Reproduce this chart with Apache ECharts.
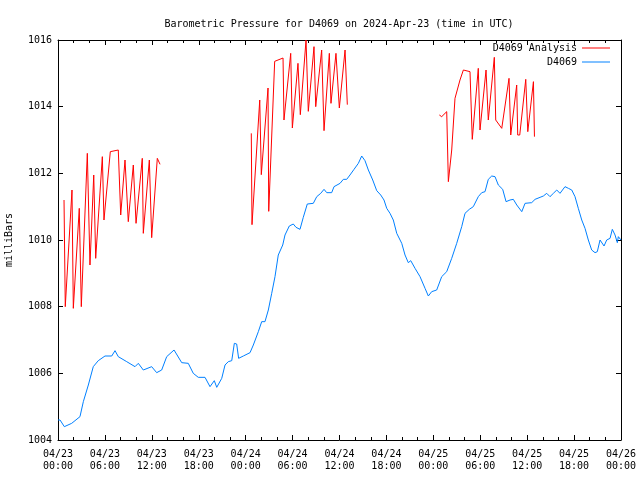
<!DOCTYPE html>
<html>
<head>
<meta charset="utf-8">
<script src="https://cdn.jsdelivr.net/npm/echarts@6/dist/echarts.min.js"></script>
<style>html,body{margin:0;padding:0;background:#fff}#c{width:640px;height:480px}</style>
</head>
<body>
<div id="c"></div>
<script>
// Hours since 2024-04-23 00:00 UTC
var blueHours = [0,0.26,0.81,1.75,2.81,3.24,3.88,4.51,5.15,6.01,6.87,7.29,7.71,8.79,9.85,10.27,10.91,11.98,12.62,13.26,13.9,14.84,15.82,16.66,17.3,17.94,18.8,19.44,19.99,20.3,20.94,21.36,21.78,22.22,22.55,22.85,23.1,23.7,24.56,24.98,25.62,26.05,26.47,26.9,27.33,27.75,28.17,28.74,29.03,29.58,30.09,30.44,30.95,31.37,31.88,32.65,33.09,33.6,34.02,34.37,35.0,35.3,36.07,36.49,36.92,37.34,37.86,38.41,38.84,39.26,39.69,40.25,40.76,41.27,41.69,42.04,42.46,42.88,43.32,43.96,44.38,44.8,45.11,45.66,46.3,46.94,47.36,47.79,48.43,49.07,49.71,50.35,50.99,51.63,52.05,52.6,53.11,53.75,54.19,54.61,55.03,55.47,55.89,56.31,56.87,57.3,57.81,58.23,58.67,59.31,59.73,60.58,61.01,61.65,62.07,62.5,62.92,63.35,63.78,64.2,64.84,65.27,65.7,66.12,66.54,66.98,67.4,67.82,68.25,68.68,68.97,69.32,69.53,69.83,70.17,70.6,70.89,71.24,71.53,71.66,72];
var blueValues = [1004.6,1004.6,1004.4,1004.5,1004.7,1005.15,1005.65,1006.2,1006.38,1006.52,1006.52,1006.68,1006.5,1006.35,1006.2,1006.3,1006.1,1006.2,1006.02,1006.1,1006.5,1006.7,1006.32,1006.3,1006.0,1005.88,1005.88,1005.6,1005.78,1005.58,1005.85,1006.25,1006.35,1006.38,1006.9,1006.88,1006.45,1006.52,1006.62,1006.85,1007.25,1007.55,1007.55,1007.9,1008.4,1008.9,1009.55,1009.85,1010.15,1010.42,1010.48,1010.38,1010.32,1010.68,1011.08,1011.1,1011.3,1011.4,1011.52,1011.42,1011.42,1011.6,1011.7,1011.82,1011.82,1011.95,1012.12,1012.3,1012.52,1012.38,1012.1,1011.8,1011.48,1011.35,1011.2,1010.95,1010.8,1010.6,1010.2,1009.9,1009.55,1009.32,1009.38,1009.15,1008.9,1008.55,1008.32,1008.45,1008.5,1008.9,1009.05,1009.45,1009.9,1010.4,1010.8,1010.92,1011.0,1011.3,1011.42,1011.45,1011.82,1011.92,1011.9,1011.65,1011.52,1011.15,1011.2,1011.22,1011.05,1010.85,1011.1,1011.12,1011.22,1011.28,1011.32,1011.4,1011.3,1011.4,1011.5,1011.4,1011.6,1011.55,1011.5,1011.3,1010.95,1010.6,1010.35,1010.0,1009.7,1009.62,1009.65,1010.0,1010.02,1009.82,1010.0,1010.05,1010.32,1010.15,1009.92,1010.1,1010.0];

var analysisHours = [0.77,0.93,1.79,1.96,2.72,2.98,3.75,4.09,4.57,4.82,5.67,5.88,6.69,7.71,8.02,8.57,8.99,9.63,9.98,10.78,10.91,11.68,11.98,12.7,13.05,
  18,
  24.72,24.81,25.8,26.0,26.86,26.95,27.71,28.78,28.9,29.76,29.97,30.69,30.99,31.72,32.01,32.74,32.96,33.72,33.93,34.02,34.7,34.91,35.55,35.98,36.71,37.0,
  42,
  48.77,49.07,49.71,49.92,50.35,50.77,51.41,51.84,52.69,52.98,53.75,53.97,54.74,55.03,55.8,55.98,56.75,57.68,57.9,58.66,58.79,59.05,59.82,60.08,60.8,60.93];
var analysisValues = [1011.2,1008.0,1011.5,1007.95,1010.95,1008.0,1012.6,1009.25,1011.95,1009.45,1012.5,1010.6,1012.65,1012.7,1010.75,1012.4,1010.55,1012.25,1010.5,1012.45,1010.2,1012.4,1010.07,1012.45,1012.27,
  null,
  1013.2,1010.46,1014.2,1011.96,1014.56,1010.86,1015.36,1015.46,1013.6,1015.6,1013.36,1015.3,1013.76,1016.0,1013.86,1015.8,1014.0,1015.7,1015.7,1013.28,1015.6,1014.1,1015.6,1013.96,1015.7,1014.06,
  null,
  1013.75,1013.7,1013.85,1011.75,1012.7,1014.25,1014.8,1015.1,1015.05,1013.02,1015.15,1013.3,1015.1,1013.6,1015.48,1013.6,1013.35,1014.85,1013.15,1014.65,1013.15,1013.15,1014.82,1013.25,1014.75,1013.1];

var yTicks = [1004,1006,1008,1010,1012,1014,1016];
var seriesNames = ['D4069 Analysis','D4069'];
var titleText = 'Barometric Pressure for D4069 on 2024-Apr-23 (time in UTC)';
var yName = 'milliBars';

function pairs(h, v){ return h.map(function(x,i){ return [x, v[i]]; }); }
function pad(n){ return (n<10?'0':'')+n; }

var FONT = 'DejaVu Sans Mono';
var chart = echarts.init(document.getElementById('c'), null, {renderer:'canvas'});

var xCommon = {
  type:'value', min:0, max:72, interval:6,
  axisLine:{show:true, onZero:false, lineStyle:{color:'#000', width:1}},
  axisTick:{show:true, inside:true, length:5, lineStyle:{color:'#000'}},
  minorTick:{show:true, splitNumber:3, length:3, lineStyle:{color:'#000'}},
  splitLine:{show:false}
};
var yCommon = {
  type:'value', min:yTicks[0], max:yTicks[yTicks.length-1], interval:2,
  axisLine:{show:true, onZero:false, lineStyle:{color:'#000', width:1}},
  axisTick:{show:true, inside:true, length:5, lineStyle:{color:'#000'}},
  splitLine:{show:false}
};

var option = {
  animation:false,
  backgroundColor:'#fff',
  title:{text:titleText, left:334, textAlign:'center', top:14,
    textStyle:{fontFamily:FONT, fontSize:10, fontWeight:'normal', color:'#000'}},
  grid:{left:58, right:19, top:40, bottom:40, containLabel:false, outerBoundsMode:'none'},
  legend:[
    {data:[seriesNames[0]], right:30, top:43, orient:'vertical', align:'right', padding:0,
     icon:'rect', itemWidth:28, itemHeight:1, textStyle:{fontFamily:FONT, fontSize:10, color:'#000'}},
    {data:[seriesNames[1]], right:30, top:57, orient:'vertical', align:'right', padding:0,
     icon:'rect', itemWidth:28, itemHeight:1, textStyle:{fontFamily:FONT, fontSize:10, color:'#000'}}
  ],
  xAxis:[
    Object.assign({}, xCommon, {position:'bottom',
      axisLabel:{show:true, margin:8, color:'#000', fontFamily:FONT, fontSize:10, lineHeight:12,
        formatter:function(v){ var d = 23 + Math.floor(v/24); var hh = v % 24; return '04/' + pad(d) + '\n' + pad(hh) + ':00'; }}}),
    Object.assign({}, xCommon, {position:'top', axisLabel:{show:false}})
  ],
  yAxis:[
    Object.assign({}, yCommon, {position:'left', name:yName, nameLocation:'middle', nameGap:44, nameRotate:90,
      nameTextStyle:{fontFamily:FONT, fontSize:10, color:'#000'},
      axisLabel:{show:true, margin:6, color:'#000', fontFamily:FONT, fontSize:10,
        formatter:function(v){ return String(v); }}}),
    Object.assign({}, yCommon, {position:'right', axisLabel:{show:false}})
  ],
  series:[
    {name:seriesNames[0], type:'line', xAxisIndex:0, yAxisIndex:0, data:pairs(analysisHours, analysisValues),
     showSymbol:false, symbol:'none', connectNulls:false, color:'#ff0000', lineStyle:{color:'#ff0000', width:1}},
    {name:seriesNames[1], type:'line', xAxisIndex:0, yAxisIndex:0, data:pairs(blueHours, blueValues),
     showSymbol:false, symbol:'none', color:'#0080ff', lineStyle:{color:'#0080ff', width:1}}
  ]
};
chart.setOption(option);
</script>
</body>
</html>
